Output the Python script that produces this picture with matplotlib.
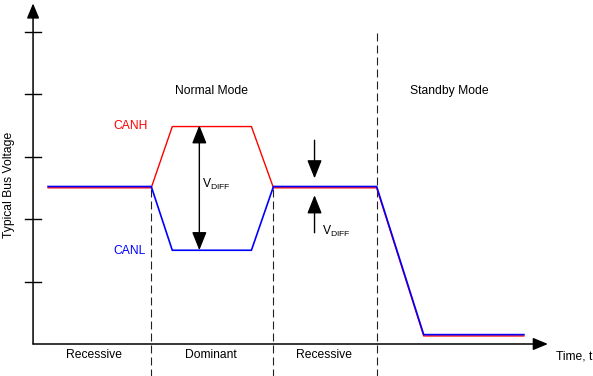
import matplotlib.pyplot as plt
import matplotlib.transforms as mtransforms

plt.rcParams['font.family'] = ['Liberation Sans', 'DejaVu Sans']
plt.rcParams['mathtext.fontset'] = 'custom'
plt.rcParams['mathtext.rm'] = 'Liberation Sans'

# time points (arbitrary units) and bus voltages
t = [1.5, 11.8, 13.9, 21.8, 24.0, 34.3, 39.0, 49.0]
canh = [2.52, 2.52, 3.5, 3.5, 2.52, 2.52, 0.15, 0.15]
canl = [2.52, 2.52, 1.5, 1.5, 2.52, 2.52, 0.15, 0.15]
y_ticks = [1, 2, 3, 4, 5]
boundaries = [11.8, 24.0, 34.3]
phases = ['Recessive', 'Dominant', 'Recessive']
phase_centers = [6.1, 17.8, 29.0]
modes = ['Normal Mode', 'Standby Mode']
mode_centers = [17.8, 41.6]

fs = 8.7

fig = plt.figure(figsize=(5.93, 3.76), dpi=100)
ax = fig.add_axes([0, 0, 1, 1])
ax.set_xlim(-3.3, 55.9)
ax.set_ylim(-0.512, 5.504)
ax.axis('off')

arrow = '-|>,head_length=0.6,head_width=0.25'

# axes with arrows
ax.annotate('', xy=(0, 5.45), xytext=(0, 0),
            arrowprops=dict(arrowstyle=arrow, mutation_scale=15, color='k', lw=1.1,
                            shrinkA=0, shrinkB=0))
ax.annotate('', xy=(51.4, 0), xytext=(0, 0),
            arrowprops=dict(arrowstyle=arrow, mutation_scale=15, color='k', lw=1.1,
                            shrinkA=0, shrinkB=0))
for v in y_ticks:
    ax.plot([-0.8, 0.8], [v, v], color='k', lw=1.0)

# phase boundaries
dash = (0, (7.2, 3.6))
ax.vlines(boundaries[:2], -0.6, 2.52, colors='#222222', lw=0.8, linestyles=dash)
ax.vlines(boundaries[2], -0.6, 5.02, colors='#222222', lw=0.8, linestyles=dash)

# bus lines
red_tr = mtransforms.offset_copy(ax.transData, fig=fig, y=-1.3, units='dots')
ax.plot(t, canh, color='#ff0000', lw=1.0, transform=red_tr)
ax.plot(t, canl, color='#0000ff', lw=1.2)

# VDIFF arrows
ax.annotate('', xy=(16.6, 3.5), xytext=(16.6, 1.5),
            arrowprops=dict(arrowstyle='<|-|>,head_length=0.75,head_width=0.3',
                            mutation_scale=15, color='k', lw=1.0, shrinkA=0, shrinkB=0))
ax.annotate('', xy=(28.1, 2.65), xytext=(28.1, 3.26),
            arrowprops=dict(arrowstyle='-|>,head_length=0.75,head_width=0.3',
                            mutation_scale=15, color='k', lw=1.0, shrinkA=0, shrinkB=0))
ax.annotate('', xy=(28.1, 2.38), xytext=(28.1, 1.78),
            arrowprops=dict(arrowstyle='-|>,head_length=0.75,head_width=0.3',
                            mutation_scale=15, color='k', lw=1.0, shrinkA=0, shrinkB=0))
ax.text(16.85, 2.56, r'V$_{\mathrm{DIFF}}$', fontsize=fs, va='center', ha='left')
ax.text(28.8, 1.8, r'V$_{\mathrm{DIFF}}$', fontsize=fs, va='center', ha='left')

# labels
ax.text(11.45, 3.49, 'CANH', color='#ff0000', fontsize=fs, ha='right', va='center')
ax.text(11.3, 1.49, 'CANL', color='#0000ff', fontsize=fs, ha='right', va='center')
for name, c in zip(modes, mode_centers):
    ax.text(c, 4.05, name, fontsize=fs, ha='center', va='center')
for name, c in zip(phases, phase_centers):
    ax.text(c, -0.18, name, fontsize=fs, ha='center', va='center')
ax.text(55.8, -0.2, 'Time, t', fontsize=fs, ha='right', va='center')
ax.text(-2.4, 2.54, 'Typical Bus Voltage', fontsize=fs, rotation=90,
        ha='center', va='center')

fig.savefig('out.png', dpi=100)
